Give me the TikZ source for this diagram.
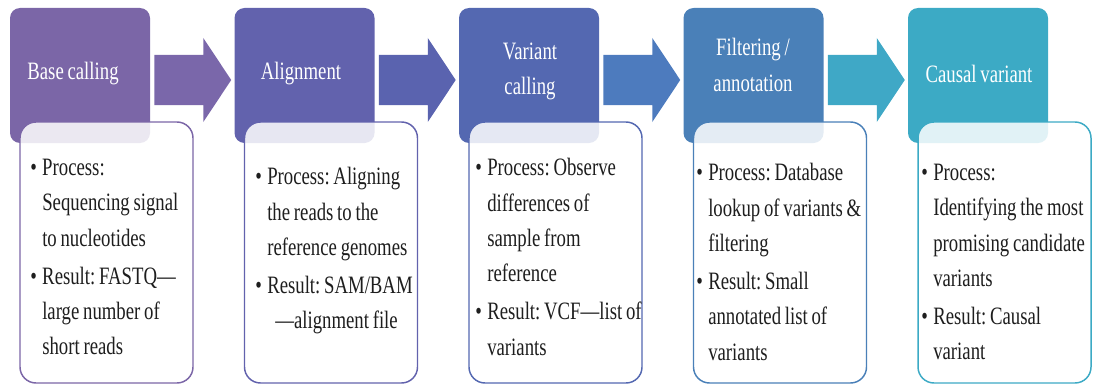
\documentclass[tikz,border=0pt]{standalone}
\usepackage{fontspec}
\setmainfont{Liberation Serif}[FakeStretch=0.75,WordSpace=0.8]
\usetikzlibrary{calc}
\frenchspacing
\definecolor{c1}{HTML}{7B66A7}
\definecolor{c2}{HTML}{6262AD}
\definecolor{c3}{HTML}{5468B1}
\definecolor{c4}{HTML}{4A80B8}
\definecolor{c5}{HTML}{3CAAC5}
\definecolor{a1}{HTML}{7A67AA}
\definecolor{a2}{HTML}{5A63AF}
\definecolor{a3}{HTML}{4D7BBE}
\definecolor{a4}{HTML}{3FA8C6}
\definecolor{txt}{HTML}{1E1E1E}
\newcommand{\bul}{\makebox[9pt][l]{\textbullet}}
\newcommand{\ind}{\hspace*{9pt}}
\newcommand{\blockarrow}[3]{%
  \fill[#3] ($(#1.east)+(4,-20.5)$) -- ($(#1.east)+(53,-20.5)$) -- ($(#1.east)+(53,-37.5)$)
    -- ($(#2.west)+(-3,4.5)$) -- ($(#1.east)+(53,46.5)$) -- ($(#1.east)+(53,29.5)$)
    -- ($(#1.east)+(4,29.5)$) -- cycle;}
\begin{document}
\begin{tikzpicture}[x=0.75pt,y=-0.75pt,
  titlebox/.style={rounded corners=7.5pt, minimum width=105pt, minimum height=101.25pt, inner sep=0pt},
  titletext/.style={text=white, font=\frenchspacing\fontsize{18.75}{26.5}\selectfont, align=center, inner sep=0pt},
  infobox/.style={draw, line width=1.1pt, rounded corners=12pt, fill=white, fill opacity=0.85, draw opacity=1, minimum width=129.75pt, minimum height=195.75pt, inner sep=0pt},
  infotext/.style={text=txt, font=\frenchspacing\fontsize{18.75}{26.5}\selectfont, align=left, anchor=west, inner sep=0pt}]
\useasboundingbox (0,0) rectangle (1094,385);
% title boxes
\node[titlebox, fill=c1] (t1) at (80,75.5) {};
\node[titlebox, fill=c2] (t2) at (304.5,75.5) {};
\node[titlebox, fill=c3] (t3) at (529,75.5) {};
\node[titlebox, fill=c4] (t4) at (753.5,75.5) {};
\node[titlebox, fill=c5] (t5) at (978,75.5) {};
% arrows
\blockarrow{t1}{t2}{a1}
\blockarrow{t2}{t3}{a2}
\blockarrow{t3}{t4}{a3}
\blockarrow{t4}{t5}{a4}
% titles
\node[titletext] (l1) at (73,74) {Base calling};
\node[titletext] (l2) at (301,74) {Alignment};
\node[titletext] (l3) at (530,71.5) {Variant\\calling};
\node[titletext] (l4) at (753,65) {Filtering /\\annotation};
\node[titletext] (l5) at (979,74) {Causal variant};
% info boxes
\node[infobox, draw=c1] (w1) at (106.5,252.5) {};
\node[infobox, draw=c2] (w2) at (331,252.5) {};
\node[infobox, draw=c3] (w3) at (555.5,252.5) {};
\node[infobox, draw=c4] (w4) at (780,252.5) {};
\node[infobox, draw=c5] (w5) at (1004.5,252.5) {};
% info texts
\node[infotext] (x1) at (30,257) {\bul Process:\\ \ind Sequencing signal\\ \ind to nucleotides\\[2pt] \bul Result: FASTQ—\\ \ind large number of\\ \ind short reads};
\node[infotext] (x2) at (255,251) {\bul Process: Aligning\\ \ind the reads to the\\ \ind reference genomes\\[2pt] \bul Result: SAM/BAM\\ \ind\hspace*{6pt}—alignment file};
\node[infotext] (x3) at (475,257) {\bul Process: Observe\\ \ind differences of\\ \ind sample from\\ \ind reference\\[2pt] \bul Result: VCF—list of\\ \ind variants};
\node[infotext] (x4) at (696,262) {\bul Process: Database\\ \ind lookup of variants \&\\ \ind filtering\\[2pt] \bul Result: Small\\ \ind annotated list of\\ \ind variants};
\node[infotext] (x5) at (921,262) {\bul Process:\\ \ind Identifying the most\\ \ind promising candidate\\ \ind variants\\[2pt] \bul Result: Causal\\ \ind variant};
\end{tikzpicture}
\end{document}
